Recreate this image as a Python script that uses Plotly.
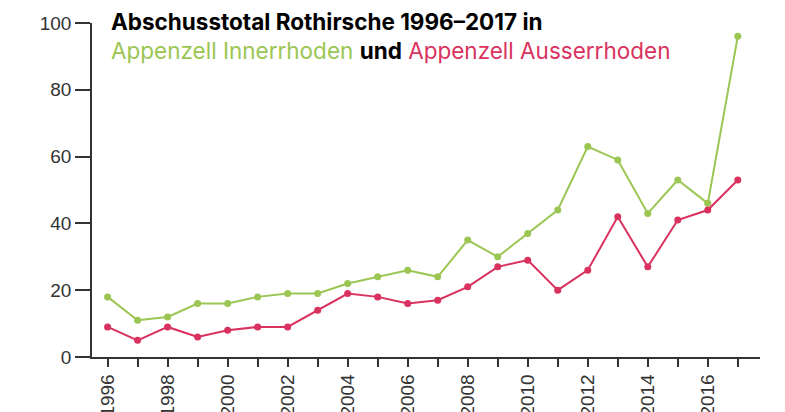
import plotly.graph_objects as go

# --------------------------------------------------
# DATA
# --------------------------------------------------

years = list(range(1996, 2018))

innerrhoden = [18, 11, 12, 16, 16, 18, 19, 19, 22, 24, 26,
               24, 35, 30, 37, 44, 63, 59, 43, 53, 46, 96]

ausserrhoden = [9, 5, 9, 6, 8, 9, 9, 14, 19, 18, 16,
                17, 21, 27, 29, 20, 26, 42, 27, 41, 44, 53]

tick_years = list(range(1996, 2018, 2))
y_ticks = [0, 20, 40, 60, 80, 100]

GREEN = "#9bc653"
RED = "#d9325e"
AXIS = "#333333"

# --------------------------------------------------
# FIGURE
# --------------------------------------------------

fig = go.Figure()

fig.add_trace(
    go.Scatter(
        x=years,
        y=innerrhoden,
        mode="lines+markers",
        name="Appenzell Innerrhoden",
        line=dict(color=GREEN, width=2),
        marker=dict(color=GREEN, size=7)
    )
)

fig.add_trace(
    go.Scatter(
        x=years,
        y=ausserrhoden,
        mode="lines+markers",
        name="Appenzell Ausserrhoden",
        line=dict(color=RED, width=2),
        marker=dict(color=RED, size=7)
    )
)

title_text = (
    "<b>Abschusstotal Rothirsche 1996–2017 in</b><br>"
    f"<span style='color:{GREEN}'>Appenzell Innerrhoden</span> "
    "<b>und</b> "
    f"<span style='color:{RED}'>Appenzell Ausserrhoden</span>"
)

fig.add_annotation(
    text=title_text,
    xref="paper",
    yref="paper",
    x=0.026,
    y=1.05,
    xanchor="left",
    yanchor="top",
    align="left",
    showarrow=False,
    font=dict(size=22.5, color="#000000", family="Inter, Liberation Sans, Arial, sans-serif")
)

fig.update_xaxes(
    range=[1995.48, 2017.74],
    tickmode="array",
    tickvals=years,
    ticktext=[str(y) if y in tick_years else "" for y in years],
    tickangle=-90,
    ticks="outside",
    ticklen=8,
    tickwidth=1.5,
    tickcolor=AXIS,
    showline=True,
    linecolor=AXIS,
    linewidth=1.5,
    showgrid=False,
    zeroline=False,
    automargin=False,
    tickfont=dict(size=19, color=AXIS)
)

fig.update_yaxes(
    range=[0, 100],
    tickmode="array",
    tickvals=y_ticks,
    ticks="outside",
    ticklen=15,
    tickwidth=1.5,
    tickcolor=AXIS,
    showline=True,
    linecolor=AXIS,
    linewidth=1.5,
    showgrid=False,
    zeroline=False,
    automargin=False,
    tickfont=dict(size=19, color=AXIS)
)

# the page adds an 8px body margin, so the plot margins are offset for it
fig.update_layout(
    width=785,
    height=412,
    margin=dict(l=84, r=33, t=15, b=63),
    paper_bgcolor="white",
    plot_bgcolor="white",
    showlegend=False,
    font=dict(family="Liberation Sans, Arial, sans-serif")
)

fig.write_html("out.html")
